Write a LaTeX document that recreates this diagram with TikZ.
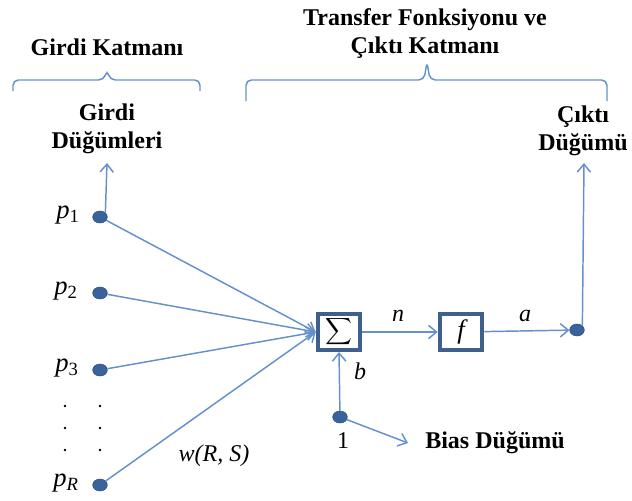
\documentclass[tikz,border=0pt]{standalone}
\usepackage{fontspec}
\setmainfont{Liberation Serif}
\usetikzlibrary{shapes.geometric}
\usetikzlibrary{arrows.meta}

\definecolor{linkblue}{RGB}{100,145,205}
\definecolor{dotblue}{RGB}{58,98,155}
\definecolor{boxblue}{RGB}{62,96,142}

\begin{document}
\begin{tikzpicture}[x=0.75pt,y=-0.75pt]
	\tikzstyle{unit}=[ellipse,fill=dotblue,draw=dotblue!80!black,minimum width=11pt,minimum height=9pt,inner sep=0pt]
	\tikzstyle{block}=[draw=boxblue,line width=3pt,minimum width=32pt,minimum height=27pt,fill=white,inner sep=0pt]
	\tikzstyle{link}=[-{Straight Barb[length=6pt,width=10pt]},linkblue,line width=1.1pt]
	\tikzstyle{bracket}=[linkblue,line width=1.1pt,rounded corners=4pt]
	\tikzstyle{title}=[font=\bfseries\fontsize{18}{21}\selectfont,align=center]
	\tikzstyle{sym}=[font=\itshape\fontsize{18}{21}\selectfont]
	\tikzstyle{vdot}=[circle,fill=black,inner sep=0pt,minimum size=2pt]

	\useasboundingbox (0,0) rectangle (632,500);

	% layer titles
	\node[title] (inlayer) at (107,47) {Girdi Katmanı};
	\node[title] (outlayer) at (425,34) {Transfer Fonksiyonu ve\\Çıktı Katmanı};
	\draw[bracket] (13,91) -- (13,80) -- (104,80) -- (107,70) -- (110,80) -- (200,80) -- (200,91);
	\draw[bracket] (246,101) -- (246,80) -- (424,80) -- (427,62) -- (430,80) -- (607,80) -- (607,101);

	\node[title] (innodes) at (107,129) {Girdi\\Düğümleri};
	\node[title] (outnode) at (583,131) {Çıktı\\Düğümü};

	% input nodes
	\node[unit] (p1) at (100,217) {};
	\node[unit] (p2) at (100,293) {};
	\node[unit] (p3) at (100,370) {};
	\node[unit] (pR) at (100,485) {};
	\node[sym,font=\itshape\fontsize{20}{22}\selectfont] (lp1) at (68,215) {p\textsubscript{\upshape1}};
	\node[sym,font=\itshape\fontsize{20}{22}\selectfont] (lp2) at (66,291) {p\textsubscript{\upshape2}};
	\node[sym,font=\itshape\fontsize{20}{22}\selectfont] (lp3) at (67,368) {p\textsubscript{\upshape3}};
	\node[sym,font=\itshape\fontsize{20}{22}\selectfont] (lpR) at (66,483) {p\textsubscript{R}};
	\foreach \i/\y in {1/406,2/428,3/450} {
		\node[vdot] (vl\i) at (65,\y) {};
		\node[vdot] (vr\i) at (100,\y) {};
	}

	% neuron
	\node[block] (sum) at (339,332) {\scalebox{1.4}{$\displaystyle\sum$}};
	\node[block] (fun) at (461,332) {\itshape\fontsize{20}{22}\selectfont f};
	\node[unit] (out) at (577,330) {};
	\node[unit] (bias) at (340,417) {};

	\node[sym] (ln) at (398,316) {n};
	\node[sym] (la) at (525,316) {a};
	\node[sym] (lb) at (360,371) {b};
	\node[sym,font=\fontsize{18}{21}\selectfont] (lone) at (343,441) {1};
	\node[sym] (lw) at (214,456) {w(R, S)};
	\node[title] (biasnode) at (495,443) {Bias Düğümü};

	\coordinate (inup) at (107,163);
	\coordinate (outup) at (584,163);
	\coordinate (biastip) at (408,443);

	\draw[link] (p1.north east) -- (inup);
	\foreach \i in {p1,p2,p3,pR}
		\draw[link] (\i) -- (sum.west);
	\draw[link] (sum) -- (fun);
	\draw[link] (fun) -- (out);
	\draw[link] (out.north east) -- (outup);
	\draw[link] (bias) -- (sum.south);
	\draw[link] (bias) -- (biastip);
\end{tikzpicture}
\end{document}
